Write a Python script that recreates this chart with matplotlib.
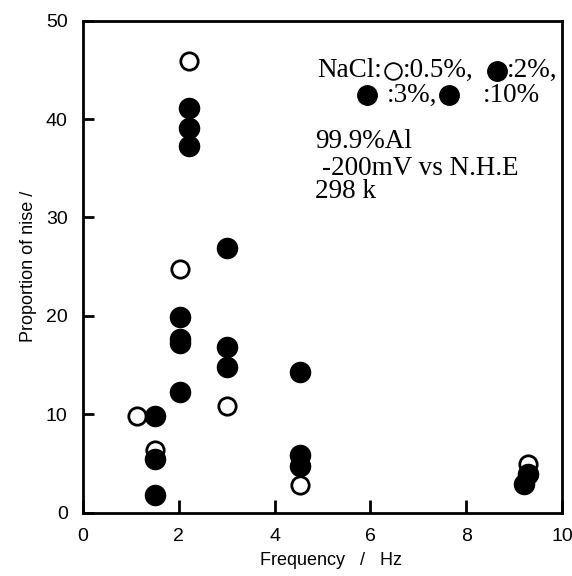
import matplotlib.pyplot as plt

# NaCl 0.5 % (open circles)
open_x = [1.12, 1.5, 2.03, 2.21, 3.0, 4.53, 9.3]
open_y = [9.86, 6.4, 24.8, 45.9, 10.8, 2.8, 4.9]

# NaCl 2 %, 3 %, 10 % (filled circles)
fill_x = [1.5, 1.5, 1.5, 2.03, 2.03, 2.03, 2.03, 2.21, 2.21, 2.21,
          3.0, 3.0, 3.0, 4.53, 4.53, 4.53, 9.2, 9.3]
fill_y = [9.86, 5.5, 1.8, 19.9, 17.6, 17.2, 12.3, 41.1, 39.1, 37.3,
          26.9, 16.8, 14.8, 14.3, 5.9, 4.7, 2.9, 3.9]

fig = plt.figure(figsize=(5.72, 5.76), dpi=100)
ax = fig.add_axes([0.145, 0.11, 0.8375, 0.854])

ax.plot(open_x, open_y, 'o', markerfacecolor='white', markeredgecolor='black',
        markeredgewidth=2, markersize=12.5, linestyle='none')
ax.plot(fill_x, fill_y, 'o', color='black', markersize=14.5, linestyle='none')

ax.set_xlim(0, 10)
ax.set_ylim(0, 50)
ax.set_xticks([0, 2, 4, 6, 8, 10])
ax.set_yticks([0, 10, 20, 30, 40, 50])

for s in ax.spines.values():
    s.set_linewidth(2.0)

ax.tick_params(direction='in', width=2, labelsize=14)
ax.tick_params(axis='x', length=9.5, pad=11)
ax.tick_params(axis='y', length=8, pad=11)
for lab in ax.get_xticklabels() + ax.get_yticklabels():
    lab.set_family('Liberation Sans')

ax.set_xlabel('Frequency   /   Hz', fontsize=13, family='Liberation Sans', labelpad=5)
ax.xaxis.label.set_x(0.518)
ax.set_ylabel('Proportion of nise /', fontsize=13, family='Liberation Sans', labelpad=6)

# annotation block (serif), positions in axes fraction
fs = 19.5
serif = 'Liberation Serif'
tkw = dict(transform=ax.transAxes, fontsize=fs, family=serif, va='baseline', ha='left')
ax.text(0.4885, 0.886, 'NaCl:', **tkw)
ax.text(0.668, 0.886, ':0.5%,', **tkw)
ax.text(0.885, 0.886, ':2%,', **tkw)
ax.text(0.635, 0.8354, ':3%,', **tkw)
ax.text(0.835, 0.8354, ':10%', **tkw)
ax.text(0.4843, 0.7406, '99.9%Al', **tkw)
ax.text(0.499, 0.6864, '-200mV vs N.H.E', **tkw)
ax.text(0.4843, 0.639, '298 k', **tkw)

mkw = dict(transform=ax.transAxes, clip_on=False, linestyle='none')
ax.plot([0.647], [0.8984], 'o', markerfacecolor='white', markeredgecolor='black',
        markeredgewidth=1.3, markersize=12, **mkw)
ax.plot([0.864, 0.593, 0.765], [0.8984, 0.849, 0.849], 'o', color='black',
        markersize=14, **mkw)

fig.savefig('out.png', dpi=100)
